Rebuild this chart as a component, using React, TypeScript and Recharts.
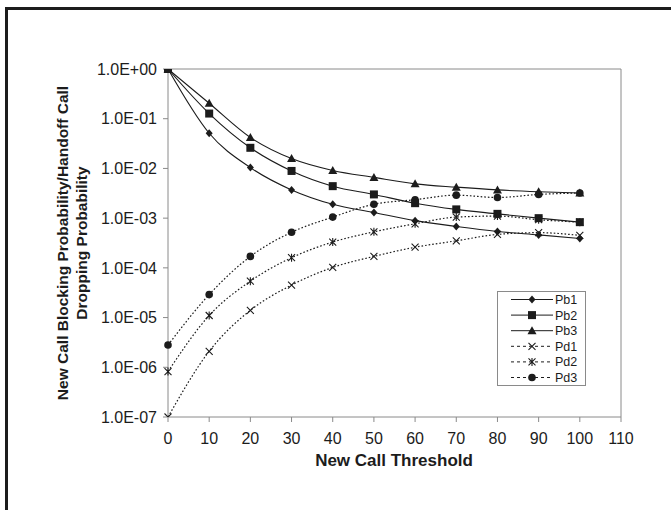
import React from "react";
import {
  LineChart,
  Line,
  XAxis,
  YAxis,
  Legend,
  ReferenceLine,
  Label,
} from "recharts";

const thresholds = [0, 10, 20, 30, 40, 50, 60, 70, 80, 90, 100];

const pb1 = [1, 0.051, 0.0104, 0.0037, 0.0019, 0.0013, 0.00089, 0.00068, 0.00054, 0.00046, 0.00039];
const pb2 = [1, 0.127, 0.026, 0.0089, 0.0044, 0.003, 0.002, 0.0015, 0.00122, 0.001, 0.00083];
const pb3 = [1, 0.205, 0.042, 0.0158, 0.0091, 0.0066, 0.0049, 0.0042, 0.0037, 0.0034, 0.0032];
const pd1 = [1e-7, 2.1e-6, 1.4e-5, 4.5e-5, 1.02e-4, 1.7e-4, 2.6e-4, 3.5e-4, 4.7e-4, 5.1e-4, 4.5e-4];
const pd2 = [8.2e-7, 1.1e-5, 5.4e-5, 1.6e-4, 3.3e-4, 5.3e-4, 7.7e-4, 1.05e-3, 1.1e-3, 9.3e-4, 8.3e-4];
const pd3 = [2.8e-6, 2.9e-5, 1.7e-4, 5.2e-4, 1.05e-3, 1.9e-3, 2.35e-3, 2.9e-3, 2.6e-3, 3.0e-3, 3.2e-3];

const xTicks = [0, 10, 20, 30, 40, 50, 60, 70, 80, 90, 100, 110];
const yTicks = [1e-7, 1e-6, 1e-5, 1e-4, 1e-3, 1e-2, 1e-1, 1];

const data = thresholds.map((t, i) => ({
  t,
  Pb1: pb1[i],
  Pb2: pb2[i],
  Pb3: pb3[i],
  Pd1: pd1[i],
  Pd2: pd2[i],
  Pd3: pd3[i],
}));

const INK = "#1c1c1c";
const AXIS = "#8a8a8a";
const FONT = "'Liberation Sans', Arial, sans-serif";

type Shape = "diamond" | "square" | "triangle" | "cross" | "star" | "circle";

const series: { key: string; shape: Shape; dashed: boolean }[] = [
  { key: "Pb1", shape: "diamond", dashed: false },
  { key: "Pb2", shape: "square", dashed: false },
  { key: "Pb3", shape: "triangle", dashed: false },
  { key: "Pd1", shape: "cross", dashed: true },
  { key: "Pd2", shape: "star", dashed: true },
  { key: "Pd3", shape: "circle", dashed: true },
];

const Marker = ({ shape, cx, cy }: { shape: Shape; cx: number; cy: number }) => {
  switch (shape) {
    case "diamond":
      return (
        <path
          d={`M${cx},${cy - 4}L${cx + 3.5},${cy}L${cx},${cy + 4}L${cx - 3.5},${cy}Z`}
          fill={INK}
        />
      );
    case "square":
      return <rect x={cx - 4} y={cy - 4} width={8} height={8} fill={INK} />;
    case "triangle":
      return (
        <path d={`M${cx},${cy - 4.5}L${cx + 4.5},${cy + 3.5}L${cx - 4.5},${cy + 3.5}Z`} fill={INK} />
      );
    case "cross":
      return (
        <path
          d={`M${cx - 3.5},${cy - 3.5}L${cx + 3.5},${cy + 3.5}M${cx + 3.5},${cy - 3.5}L${cx - 3.5},${cy + 3.5}`}
          stroke={INK}
          strokeWidth={1.1}
        />
      );
    case "star":
      return (
        <path
          d={`M${cx - 3.5},${cy - 3.5}L${cx + 3.5},${cy + 3.5}M${cx + 3.5},${cy - 3.5}L${cx - 3.5},${cy + 3.5}M${cx},${cy - 4}L${cx},${cy + 4}`}
          stroke={INK}
          strokeWidth={1.1}
        />
      );
    default:
      return <circle cx={cx} cy={cy} r={3.8} fill={INK} />;
  }
};

const dotFor = (shape: Shape) => (props: any) => {
  const { cx, cy, index } = props;
  if (cx == null || cy == null) return <g key={`d-${shape}-${index}`} />;
  return (
    <g key={`d-${shape}-${index}`}>
      <Marker shape={shape} cx={cx} cy={cy} />
    </g>
  );
};

const fmtExp = (v: number) => {
  const e = Math.round(Math.log10(v));
  return `1.0E${e < 0 ? "-" : "+"}${String(Math.abs(e)).padStart(2, "0")}`;
};

const renderLegend = () => (
  <svg width={90} height={96} style={{ display: "block" }}>
    <rect x={0.5} y={0.5} width={88} height={94} fill="#fff" stroke={AXIS} />
    {series.map((s, i) => {
      const y = 8.5 + i * 15.6;
      return (
        <g key={s.key}>
          <line
            x1={14}
            x2={56}
            y1={y}
            y2={y}
            stroke={INK}
            strokeWidth={1}
            strokeDasharray={s.dashed ? "3 3" : undefined}
          />
          <Marker shape={s.shape} cx={35} cy={y} />
          <text x={58} y={y + 4.5} fontSize={12.5} fontFamily={FONT} fill={INK}>
            {s.key}
          </text>
        </g>
      );
    })}
  </svg>
);

const YTitle = () => (
  <g fontFamily={FONT} fontWeight="bold" fontSize={15.5} fill={INK} textAnchor="middle">
    <text x={68} y={243} transform="rotate(-90, 68, 243)">
      New Call Blocking Probability/Handoff Call
    </text>
    <text x={87} y={243} transform="rotate(-90, 87, 243)">
      Dropping Probability
    </text>
  </g>
);

const XTitle = () => (
  <text
    x={394}
    y={466}
    textAnchor="middle"
    fontFamily={FONT}
    fontWeight="bold"
    fontSize={17}
    fill={INK}
  >
    New Call Threshold
  </text>
);

export default function App() {
  return (
    <div
      style={{
        position: "absolute",
        left: 0,
        top: 0,
        width: 671,
        height: 510,
        background: "#fff",
        overflow: "hidden",
      }}
    >
      <div
        style={{
          position: "absolute",
          left: 5,
          top: 7,
          width: 700,
          height: 600,
          borderLeft: `3px solid ${INK}`,
          borderTop: `3px solid ${INK}`,
        }}
      />
      <div style={{ position: "absolute", left: 0, top: 0 }}>
        <LineChart
          width={671}
          height={510}
          data={data}
          margin={{ top: 69, right: 50, left: 0, bottom: 50 }}
        >
          <XAxis
            dataKey="t"
            type="number"
            domain={[0, 110]}
            ticks={xTicks}
            interval={0}
            height={43}
            stroke={AXIS}
            tickSize={5}
            tickMargin={11}
            tick={{ fill: INK, fontSize: 16, fontFamily: FONT }}
          >
            <Label content={XTitle} />
          </XAxis>
          <YAxis
            type="number"
            scale="log"
            domain={[1e-7, 1]}
            allowDataOverflow
            ticks={yTicks}
            interval={0}
            width={168}
            stroke={AXIS}
            tickSize={5}
            tickMargin={6}
            tickFormatter={fmtExp}
            tick={{ fill: INK, fontSize: 16, fontFamily: FONT }}
          >
            <Label content={YTitle} />
          </YAxis>
          <ReferenceLine y={1} stroke={AXIS} strokeWidth={1} />
          <ReferenceLine x={110} stroke={AXIS} strokeWidth={1} />
          {series.map((s) => (
            <Line
              key={s.key}
              dataKey={s.key}
              type="monotone"
              stroke={INK}
              strokeWidth={s.dashed ? 1.2 : 1.1}
              strokeDasharray={s.dashed ? "1.6 2" : undefined}
              dot={dotFor(s.shape)}
              activeDot={false}
              isAnimationActive={false}
            />
          ))}
          <Legend
            layout="vertical"
            align="center"
            verticalAlign="middle"
            content={renderLegend}
            wrapperStyle={{ left: 497, top: 291, width: 90, height: 96 }}
          />
        </LineChart>
      </div>
    </div>
  );
}
